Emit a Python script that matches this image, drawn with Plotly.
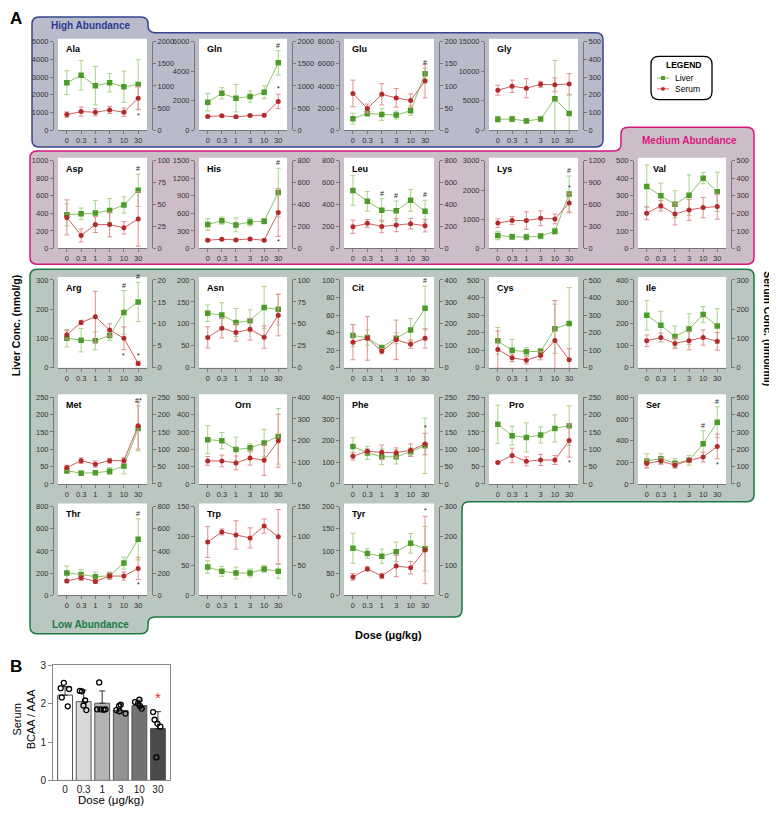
import plotly.graph_objects as go

# the figure sits 8 px in from the page corner, so it is drawn 8 px smaller
W, H = 777, 815
PAD = 8
FIG_W, FIG_H = W - PAD, H - PAD
FONT = "Liberation Sans, Arial, sans-serif"

DOSES = ["0", "0.3", "1", "3", "10", "30"]

# Panel A: liver (nmol/g) and serum (nmol/ml), mean and SD per dose
ala_liver = [2680, 3100, 2510, 2680, 2450, 2580]
ala_liver_sd = [670, 830, 1080, 520, 880, 1400]
ala_serum = [354, 420, 406, 458, 406, 723]
ala_serum_sd = [60, 103, 81, 81, 96, 260]

gln_liver = [1900, 2500, 2170, 2280, 2570, 4560]
gln_liver_sd = [600, 380, 930, 380, 440, 820]
gln_serum = [310, 325, 303, 332, 340, 650]
gln_serum_sd = [20, 20, 25, 20, 25, 162]

glu_liver = [1045, 1520, 1430, 1370, 1760, 5100]
glu_liver_sd = [480, 250, 540, 360, 420, 500]
glu_serum = [83, 49, 81, 73, 67, 111]
glu_serum_sd = [30, 10, 24, 21, 15, 38]

gly_liver = [1850, 1900, 1570, 1900, 5320, 2850]
gly_liver_sd = [450, 450, 300, 300, 6500, 3000]
gly_serum = [226, 248, 237, 259, 256, 261]
gly_serum_sd = [28, 35, 54, 17, 39, 58]

asp_liver = [384, 396, 403, 433, 496, 664]
asp_liver_sd = [125, 65, 145, 135, 93, 185]
asp_serum = [35.4, 14.9, 27.2, 27.2, 23.5, 33.6]
asp_serum_sd = [20, 7.5, 9, 14, 7, 31]

his_liver = [409, 476, 403, 453, 465, 957]
his_liver_sd = [100, 62, 118, 67, 45, 415]
his_serum = [75, 84, 78, 87, 75, 328]
his_serum_sd = [8, 8, 8, 8, 8, 218]

leu_liver = [529, 430, 349, 343, 439, 340]
leu_liver_sd = [135, 90, 105, 90, 100, 100]
leu_serum = [198, 229, 201, 213, 226, 208]
leu_serum_sd = [60, 36, 57, 60, 48, 57]

lys_liver = [444, 400, 389, 422, 589, 1867]
lys_liver_sd = [144, 90, 100, 90, 100, 611]
lys_serum = [347, 382, 382, 413, 404, 622]
lys_serum_sd = [58, 53, 120, 102, 67, 133]

val_liver = [354, 300, 252, 304, 401, 323]
val_liver_sd = [122, 73, 77, 115, 32, 112]
val_serum = [201, 243, 196, 220, 233, 239]
val_serum_sd = [37, 30, 62, 60, 58, 72]

arg_liver = [101, 94, 92, 110, 189, 225]
arg_liver_sd = [30, 40, 31, 17, 75, 67]
arg_serum = [7.5, 10.3, 11.6, 8.6, 6.7, 0.97]
arg_serum_sd = [1.0, 0.5, 5.8, 1.4, 2.6, 0.5]

asn_liver = [124, 120, 103, 107, 137, 133]
asn_liver_sd = [19, 28, 32, 25, 48, 35]
asn_serum = [34.5, 44.9, 40.1, 43.8, 34.8, 59.9]
asn_serum_sd = [12, 11, 10, 12.4, 12.7, 23.6]

cit_liver = [36.6, 34.3, 23.1, 33.6, 42.9, 67.9]
cit_liver_sd = [12.7, 8.6, 2.2, 6.3, 13, 25]
cit_serum = [116, 134, 75, 127, 107, 134]
cit_serum_sd = [80, 100, 12, 90, 19, 45]

cys_liver = [153, 99, 91, 93, 222, 252]
cys_liver_sd = [76, 63, 24, 15, 140, 205]
cys_serum = [103, 56, 43, 69, 155, 45]
cys_serum_sd = [106, 22, 22, 24, 228, 63]

ile_liver = [239, 194, 142, 176, 242, 190]
ile_liver_sd = [67, 63, 48, 70, 37, 79]
ile_serum = [92, 103, 83, 92, 103, 90]
ile_serum_sd = [20, 15, 18, 31, 26, 30]

met_liver = [37.7, 31.1, 32.1, 36.8, 51.9, 160]
met_liver_sd = [7.5, 6, 5, 10, 23, 65]
met_serum = [47, 67, 57, 67, 67, 168]
met_serum_sd = [7, 8, 9, 7, 8, 68]

orn_liver = [255, 249, 198, 208, 236, 274]
orn_liver_sd = [81, 47, 72, 23, 79, 160]
orn_serum = [106, 106, 97, 119, 109, 199]
orn_serum_sd = [20, 27, 32, 32, 70, 122]

phe_liver = [173, 143, 125, 125, 148, 176]
phe_liver_sd = [40, 30, 36, 33, 18, 128]
phe_serum = [80, 94, 91, 90, 97, 115]
phe_serum_sd = [11, 7, 21, 14, 18, 31]

pro_liver = [172, 139, 134, 141, 160, 168]
pro_liver_sd = [55, 27, 42, 23, 39, 57]
pro_serum = [62, 82, 65, 69, 69, 125]
pro_serum_sd = [2, 21, 13, 16, 13, 48]

ser_liver = [212, 233, 191, 218, 370, 570]
ser_liver_sd = [66, 45, 45, 45, 120, 143]
ser_serum = [118, 132, 108, 136, 155, 216]
ser_serum_sd = [24, 19, 15, 13, 28, 71]

thr_liver = [200, 188, 167, 176, 290, 504]
thr_liver_sd = [63, 45, 42, 33, 54, 185]
thr_serum = [128, 158, 125, 173, 173, 242]
thr_serum_sd = [15, 25, 20, 30, 36, 100]

trp_liver = [47.8, 40.4, 37.6, 37.6, 44.4, 40.4]
trp_liver_sd = [10.7, 8.4, 10, 6.7, 5.6, 11.8]
trp_serum = [90, 107, 102, 97, 117, 99]
trp_serum_sd = [26, 5, 24, 17, 12, 46]

tyr_liver = [106, 94, 88, 98, 117, 105]
tyr_liver_sd = [34, 11, 16, 22, 22, 50]
tyr_serum = [62, 89, 65, 99, 93, 153]
tyr_serum_sd = [11, 7, 9, 36, 21, 114]

# name, liver, liver sd, serum, serum sd, (left max, step), (right max, step), marks
# marks: (dose, text, where) - L above liver, Sa above serum, Sb below serum
PANELS = [
    ("Ala", ala_liver, ala_liver_sd, ala_serum, ala_serum_sd, (5000, 1000), (2000, 500), [("30", "*", "Sb")]),
    ("Gln", gln_liver, gln_liver_sd, gln_serum, gln_serum_sd, (6000, 2000), (2000, 500), [("30", "#", "L"), ("30", "*", "Sa")]),
    ("Glu", glu_liver, glu_liver_sd, glu_serum, glu_serum_sd, (8000, 2000), (200, 50), [("30", "#", "L")]),
    ("Gly", gly_liver, gly_liver_sd, gly_serum, gly_serum_sd, (15000, 5000), (500, 100), []),
    ("Asp", asp_liver, asp_liver_sd, asp_serum, asp_serum_sd, (1000, 200), (100, 25), [("30", "#", "L")]),
    ("His", his_liver, his_liver_sd, his_serum, his_serum_sd, (1500, 300), (800, 200), [("30", "#", "L"), ("30", "*", "Sb")]),
    ("Leu", leu_liver, leu_liver_sd, leu_serum, leu_serum_sd, (800, 200), (800, 200), [("1", "#", "L"), ("3", "#", "L"), ("30", "#", "L")]),
    ("Lys", lys_liver, lys_liver_sd, lys_serum, lys_serum_sd, (3000, 1000), (1200, 300), [("30", "#", "L"), ("30", "*", "Sa")]),
    ("Val", val_liver, val_liver_sd, val_serum, val_serum_sd, (500, 100), (500, 100), []),
    ("Arg", arg_liver, arg_liver_sd, arg_serum, arg_serum_sd, (300, 100), (20, 5), [("10", "#", "L"), ("30", "#", "L"), ("10", "*", "Sb"), ("30", "*", "Sa")]),
    ("Asn", asn_liver, asn_liver_sd, asn_serum, asn_serum_sd, (200, 50), (100, 25), []),
    ("Cit", cit_liver, cit_liver_sd, cit_serum, cit_serum_sd, (100, 20), (400, 100), [("30", "#", "L")]),
    ("Cys", cys_liver, cys_liver_sd, cys_serum, cys_serum_sd, (500, 100), (500, 100), []),
    ("Ile", ile_liver, ile_liver_sd, ile_serum, ile_serum_sd, (400, 100), (300, 100), []),
    ("Met", met_liver, met_liver_sd, met_serum, met_serum_sd, (250, 50), (250, 50), [("30", "#*", "L")]),
    ("Orn", orn_liver, orn_liver_sd, orn_serum, orn_serum_sd, (500, 100), (400, 100), []),
    ("Phe", phe_liver, phe_liver_sd, phe_serum, phe_serum_sd, (400, 100), (250, 50), [("30", "*", "Sa")]),
    ("Pro", pro_liver, pro_liver_sd, pro_serum, pro_serum_sd, (250, 50), (250, 50), [("30", "*", "Sb")]),
    ("Ser", ser_liver, ser_liver_sd, ser_serum, ser_serum_sd, (800, 200), (500, 100), [("10", "#", "L"), ("30", "#", "L"), ("30", "*", "Sb")]),
    ("Thr", thr_liver, thr_liver_sd, thr_serum, thr_serum_sd, (800, 200), (800, 200), [("30", "#", "L"), ("30", "*", "Sb")]),
    ("Trp", trp_liver, trp_liver_sd, trp_serum, trp_serum_sd, (150, 50), (150, 50), []),
    ("Tyr", tyr_liver, tyr_liver_sd, tyr_serum, tyr_serum_sd, (200, 50), (300, 100), [("30", "*", "Sa")]),
]

# Panel B: serum BCAA / AAA ratio
bcaa_mean = [2.22, 2.05, 2.01, 1.82, 1.95, 1.35]
bcaa_sd = [0.22, 0.30, 0.32, 0.17, 0.14, 0.44]
bcaa_points = [
    [2.54, 2.40, 2.38, 2.16, 1.93],
    [2.33, 2.32, 2.08, 1.95, 1.83],
    [2.55, 1.85, 1.85, 1.85, 1.84],
    [1.97, 1.94, 1.83, 1.80, 1.74],
    [2.10, 2.04, 2.00, 1.94, 1.87],
    [1.78, 1.58, 1.48, 1.40, 0.60],
]
bar_colors = ["#ffffff", "#d9d9d9", "#b3b3b3", "#939393", "#737373", "#4a4a4a"]

# layout in page pixels
COL_X = [(58, 147), (199, 287), (344, 434), (489, 578), (638, 726)]
ROW_Y = [(36, 126), (157, 246), (278, 367), (397, 485), (508, 598)]
ROW_COUNTS = [4, 5, 5, 5, 3]
TITLE_OFFSET = {"Val": 13, "Pro": 18}

LIVER_LINE, LIVER_MK, LIVER_ERR = "#8cc266", "#4e9a2a", "#a9d38a"
SERUM_LINE, SERUM_MK, SERUM_ERR = "#d06060", "#b22b2b", "#e09090"
AX = "#777777"


def px(x):
    return (x - PAD) / FIG_W


def py(y):
    return 1 - (y - PAD) / FIG_H


def sid(n):
    return "" if n == 1 else str(n)


def rounded_path(points, r):
    parts = []
    n = len(points)
    for i in range(n):
        x0, y0 = points[i - 1]
        x1, y1 = points[i]
        x2, y2 = points[(i + 1) % n]
        d1 = ((x1 - x0) ** 2 + (y1 - y0) ** 2) ** 0.5
        d2 = ((x2 - x1) ** 2 + (y2 - y1) ** 2) ** 0.5
        rr = min(r, d1 / 2, d2 / 2)
        ax, ay = x1 - (x1 - x0) / d1 * rr, y1 - (y1 - y0) / d1 * rr
        bx, by = x1 + (x2 - x1) / d2 * rr, y1 + (y2 - y1) / d2 * rr
        parts.append(("M" if i == 0 else "L") + f"{px(ax):.5f},{py(ay):.5f}")
        parts.append(f"Q{px(x1):.5f},{py(y1):.5f} {px(bx):.5f},{py(by):.5f}")
    return " ".join(parts) + " Z"


def label(text, x, y, size, color="black", xanchor="center", angle=0):
    return dict(text=text, x=px(x), y=py(y), xref="paper", yref="paper", showarrow=False,
                xanchor=xanchor, yanchor="middle", textangle=angle,
                font=dict(size=size, color=color, family=FONT))


fig = go.Figure()
shapes = []
annotations = []
layout = {}

# background regions
regions = [
    ([(32, 11), (148, 11), (148, 27), (603, 27), (603, 143), (32, 143)], "#b9bbcb", "#35458f"),
    ([(30, 147), (621, 147), (621, 123), (754, 123), (754, 262), (30, 262)], "#cdbdc8", "#d5187f"),
    ([(30, 267), (754, 267), (754, 503), (462, 503), (462, 620), (148, 620), (148, 637), (30, 637)], "#bac7c0", "#1d7a45"),
]
for pts, fill, edge in regions:
    shapes.append(dict(type="path", path=rounded_path(pts, 7), xref="paper", yref="paper",
                       fillcolor=fill, line=dict(color=edge, width=1.5), layer="below"))

annotations.append(label("<b>High Abundance</b>", 91, 20, 10, "#2b3990"))
annotations.append(label("<b>Medium Abundance</b>", 689, 136, 10, "#d6197f"))
annotations.append(label("<b>Low Abundance</b>", 90, 628, 10, "#1b7a45"))

# grid of amino acid panels
positions = []
for r, cnt in enumerate(ROW_COUNTS):
    for c in range(cnt):
        positions.append((r, c))

for i, (panel, pos) in enumerate(zip(PANELS, positions), start=1):
    name, liver, liver_sd, serum, serum_sd, (lmax, lstep), (rmax, rstep), marks = panel
    r, c = pos
    left, right = COL_X[c]
    top, zero = ROW_Y[r]
    xa, yl, yr = i, 2 * i - 1, 2 * i

    shapes.append(dict(type="rect", xref="paper", yref="paper", x0=px(left), x1=px(right),
                       y0=py(zero), y1=py(top - 3), fillcolor="white", line=dict(width=0), layer="below"))

    tick_font = dict(size=7.5, color="#333333", family=FONT)
    common = dict(showline=True, linecolor=AX, linewidth=1, ticks="outside", ticklen=3, tickcolor=AX,
                  tickfont=tick_font, showgrid=False, zeroline=False, fixedrange=True)
    layout["xaxis" + sid(xa)] = dict(
        domain=[px(left), px(right)], anchor="y" + sid(yl), type="category",
        range=[-0.62, 5.62], **common)
    layout["yaxis" + sid(yl)] = dict(
        domain=[py(zero), py(top)], anchor="free", position=px(left - 5), range=[0, lmax],
        tick0=0, dtick=lstep, tickformat="d", **common)
    layout["yaxis" + sid(yr)] = dict(
        overlaying="y" + sid(yl), side="right", anchor="free", position=px(right + 5),
        range=[0, rmax], tick0=0, dtick=rstep, tickformat="d", **common)

    fig.add_trace(go.Scatter(
        x=DOSES, y=liver, mode="lines+markers", name="Liver", showlegend=False,
        error_y=dict(type="data", array=liver_sd, color=LIVER_ERR, thickness=1, width=2.5),
        line=dict(color=LIVER_LINE, width=1), marker=dict(symbol="square", size=5.5, color=LIVER_MK),
        xaxis="x" + sid(xa), yaxis="y" + sid(yl)))
    fig.add_trace(go.Scatter(
        x=DOSES, y=serum, mode="lines+markers", name="Serum", showlegend=False,
        error_y=dict(type="data", array=serum_sd, color=SERUM_ERR, thickness=1, width=2.5),
        line=dict(color=SERUM_LINE, width=1), marker=dict(symbol="circle", size=5, color=SERUM_MK),
        xaxis="x" + sid(xa), yaxis="y" + sid(yr)))

    # panel title
    if name == "Orn":
        annotations.append(label(f"<b>{name}</b>", (left + right) / 2, top + 8, 9))
    else:
        annotations.append(label(f"<b>{name}</b>", left + TITLE_OFFSET.get(name, 6), top + 8, 9, xanchor="left"))

    # significance marks (x given as category index)
    scale = lmax / rmax
    for dose, text, where in marks:
        j = DOSES.index(dose)
        if where == "L":
            yv, ya = liver[j] + liver_sd[j], "bottom"
        elif where == "Sa":
            yv, ya = (serum[j] + serum_sd[j]) * scale, "bottom"
        else:
            yv, ya = (serum[j] - serum_sd[j]) * scale, "top"
        annotations.append(dict(text=text, x=j, y=yv, xref="x" + sid(xa), yref="y" + sid(yl),
                                xanchor="center", yanchor=ya, showarrow=False,
                                font=dict(size=7, color="#222222", family=FONT)))

# panel B
bx, by = 23, 45
layout["xaxis" + sid(bx)] = dict(
    domain=[px(53), px(170)], anchor="y" + sid(by), type="category", range=[-0.65, 5.65],
    showline=True, mirror=True, linecolor="#888888", ticks="", tickfont=dict(size=10, color="#222222", family=FONT),
    showgrid=False, zeroline=False, fixedrange=True)
layout["yaxis" + sid(by)] = dict(
    domain=[py(786), py(669)], anchor="x" + sid(bx), range=[0, 3], dtick=1, showline=True, mirror=True,
    linecolor="#888888", ticks="outside", ticklen=4, tickcolor="#888888",
    tickfont=dict(size=10, color="#222222", family=FONT), showgrid=False, zeroline=False, fixedrange=True)

fig.add_trace(go.Bar(
    x=DOSES, y=bcaa_mean, width=0.8, showlegend=False,
    marker=dict(color=bar_colors, line=dict(color="#555555", width=1)),
    error_y=dict(type="data", symmetric=False, array=bcaa_sd, arrayminus=[0] * len(bcaa_sd),
                 color="#333333", thickness=1, width=3),
    xaxis="x" + sid(bx), yaxis="y" + sid(by)))

pts_x, pts_y = [], []
for dose, vals in zip(DOSES, bcaa_points):
    pts_x += [dose] * len(vals)
    pts_y += vals
fig.add_trace(go.Box(
    x=pts_x, y=pts_y, boxpoints="all", jitter=0.8, pointpos=0, width=0.7, showlegend=False,
    fillcolor="rgba(0,0,0,0)", line=dict(color="rgba(0,0,0,0)"),
    marker=dict(symbol="circle-open", size=5, color="black", line=dict(width=1.3)),
    xaxis="x" + sid(bx), yaxis="y" + sid(by)))

annotations.append(dict(text="*", x=len(DOSES) - 1, y=bcaa_mean[-1] + bcaa_sd[-1], xref="x" + sid(bx),
                        yref="y" + sid(by), xanchor="center", yanchor="bottom", yshift=4, showarrow=False,
                        font=dict(size=15, color="#e8312f", family=FONT)))

# legend box
shapes.append(dict(type="path", path=rounded_path([(651, 51), (712, 51), (712, 95), (651, 95)], 8),
                   xref="paper", yref="paper", fillcolor="white", line=dict(color="black", width=1.3), layer="below"))
for yy, col, mk, sym in [(73, LIVER_LINE, LIVER_MK, "rect"), (84, SERUM_LINE, SERUM_MK, "circle")]:
    shapes.append(dict(type="line", xref="paper", yref="paper", x0=px(657), x1=px(669), y0=py(yy), y1=py(yy),
                       line=dict(color=col, width=1)))
    shapes.append(dict(type=sym, xref="paper", yref="paper", x0=px(661), x1=px(665), y0=py(yy + 2), y1=py(yy - 2),
                       fillcolor=mk, line=dict(width=0)))
annotations.append(label("<b>LEGEND</b>", 683, 60, 8.5))
annotations.append(label("Liver", 673, 73, 8.5, xanchor="left"))
annotations.append(label("Serum", 673, 84, 8.5, xanchor="left"))

# labels and axis titles
annotations.append(label("<b>A</b>", 16, 13, 17))
annotations.append(label("<b>B</b>", 16, 670, 17))
annotations.append(label("<b>Liver Conc. (nmol/g)</b>", 16, 324, 10.5, angle=-90))
annotations.append(label("<b>Serum Conc. (nmol/ml)</b>", 768, 327, 10.5, angle=90))
annotations.append(label("<b>Dose (μg/kg)</b>", 388, 638, 11))
annotations.append(label("Dose (μg/kg)", 111, 806, 11.5))
annotations.append(label("Serum<br>BCAA / AAA", 24, 724, 11, angle=-90))

fig.update_layout(
    width=FIG_W, height=FIG_H, margin=dict(l=0, r=0, t=0, b=0),
    paper_bgcolor="white", plot_bgcolor="rgba(0,0,0,0)",
    font=dict(family=FONT), showlegend=False, hovermode=False,
    shapes=shapes, annotations=annotations, **layout)

fig.write_html("out.html")
